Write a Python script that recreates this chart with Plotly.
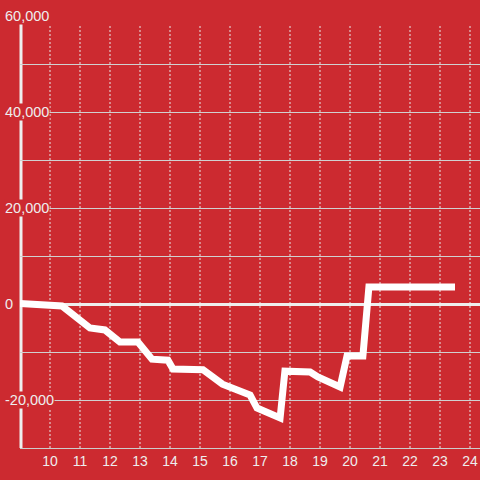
import plotly.graph_objects as go

# Data
x_vals = [9.0, 10.0, 10.4, 11.33, 11.83, 12.33, 12.93, 13.4, 13.93, 14.1, 15.1, 15.75, 16.67,
          16.9, 17.67, 17.83, 18.67, 18.93, 19.67, 19.9, 20.43, 20.63, 23.5]
y_vals = [100, -200, -400, -5000, -5400, -7900, -7900, -11500, -11700, -13540, -13700, -16700, -18960,
          -21670, -23750, -14000, -14170, -15200, -17290, -10830, -10830, 3540, 3540]

x_ticks = list(range(10, 25))
x_ticklabels = [str(t) for t in x_ticks]
y_ticks = [-20000, 0, 20000, 40000, 60000]
y_ticklabels = ["-20,000", "0", "20,000", "40,000", "60,000"]

BG = "#cc2a30"
TXT = "#eeeeee"
W, H = 480, 480
ML, MR, MT, MB = 20, 0, 16, 32
PW = W - ML - MR
PH = H - MT - MB

fig = go.Figure()
fig.add_trace(go.Scatter(x=x_vals, y=y_vals, mode="lines",
                         line=dict(color="#ffffff", width=7), hoverinfo="skip"))

shapes = []
# vertical dotted gridlines
for t in x_ticks:
    shapes.append(dict(type="line", xref="x", yref="paper", x0=t, x1=t, y0=0,
                       y1=(448 - 24) / PH, line=dict(color="#e8e8e8", width=1, dash="2px,2px"),
                       layer="below"))
# y axis line
shapes.append(dict(type="line", xref="paper", yref="paper", x0=1 / PW, x1=1 / PW, y0=0, y1=1,
                   line=dict(color=TXT, width=3), layer="below"))

annotations = []
for v, lab in zip(y_ticks, y_ticklabels):
    annotations.append(dict(text=lab, xref="paper", yref="y", x=(4 - ML) / PW, y=v,
                            xanchor="left", yanchor="middle", showarrow=False,
                            bgcolor=BG, borderpad=0,
                            font=dict(family="Liberation Sans, Arial", size=14.5, color=TXT)))

fig.update_layout(
    width=W, height=H,
    margin=dict(l=ML, r=MR, t=MT, b=MB),
    paper_bgcolor=BG, plot_bgcolor=BG,
    showlegend=False,
    shapes=shapes,
    annotations=annotations,
    xaxis=dict(range=[9, 9 + PW / 30], tickvals=x_ticks, ticktext=x_ticklabels,
               showgrid=False, zeroline=False, showline=True, linecolor="#cccccc", linewidth=1,
               ticks="", tickfont=dict(family="Liberation Sans, Arial", size=14, color=TXT),
               fixedrange=True),
    yaxis=dict(range=[-30000, 60000], tickvals=list(range(-30000, 60001, 10000)),
               showticklabels=False, showgrid=True, gridcolor="#d0d0d0", gridwidth=1,
               zeroline=True, zerolinecolor=TXT, zerolinewidth=3, showline=False,
               fixedrange=True),
)

fig.write_html("out.html", config={"displayModeBar": False},
               post_script="document.body.style.margin='0';document.body.style.overflow='hidden';")
